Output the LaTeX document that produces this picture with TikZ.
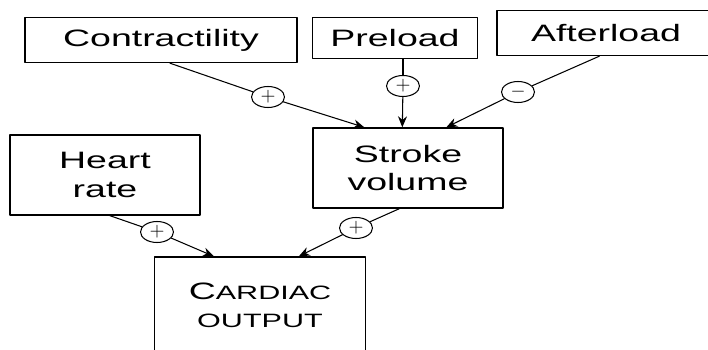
\documentclass[tikz,border=0pt]{standalone}
\usepackage{fontspec}
\setmainfont{Liberation Sans}
\usepackage{graphicx}
\usetikzlibrary{calc,shapes.geometric,arrows.meta}

% wide lettering as in the scanned figure
\newcommand{\wtxt}[1]{\scalebox{1.58}[1]{#1}}
\newcommand{\smcap}{\fontsize{11}{11}\selectfont}

\begin{document}
\begin{tikzpicture}[x=0.02cm, y=-0.02cm, line cap=round, line join=round,
  factor/.style={draw, thick, inner sep=0pt, align=center, font=\fontsize{13.5}{16}\selectfont},
  sign/.style={draw, semithick, ellipse, inner sep=0pt, minimum width=0.66cm, minimum height=0.42cm, font=\fontsize{11}{11}\selectfont},
  link/.style={semithick},
  effect/.style={semithick, -{Stealth[length=2.2mm, width=1.8mm]}}]

% Frame
\useasboundingbox (0,0) rectangle (708,349);
\clip (0,0) rectangle (708,349);

% Determinants
\node[factor, minimum width=5.44cm, minimum height=0.9cm] (contr) at (161,40) {\wtxt{Contractility}};
\node[factor, minimum width=3.3cm, minimum height=0.82cm] (pre) at (395,38) {\wtxt{Preload}};
\node[factor, minimum width=4.36cm, minimum height=0.9cm] (after) at (606,33) {\wtxt{Afterload}};
\node[factor, minimum width=3.8cm, minimum height=1.6cm] (heart) at (105,175) {\wtxt{Heart}\\\wtxt{rate}};
\node[factor, minimum width=3.8cm, minimum height=1.6cm] (stroke) at (408,168) {\wtxt{Stroke}\\\wtxt{volume}};
\node[factor, minimum width=4.22cm, minimum height=1.92cm] (cardiac) at (260,305)
  {\wtxt{C{\smcap ARDIAC}}\\\wtxt{\smcap OUTPUT}};

% Signs
\node[sign] (sc) at (268,97) {$+$};
\node[sign] (sp) at (403,86) {$+$};
\node[sign] (sa) at (518,92) {$-$};
\node[sign] (sh) at (157,232) {$+$};
\node[sign] (ss) at (356,228) {$+$};

% Influences on stroke volume
\draw[link] ($(contr.south)+(9,0)$) -- (sc);
\draw[effect] (sc) -- ($(stroke.north west)+(52,0)$);
\draw[link] ($(pre.south)+(8,0)$) -- (sp);
\draw[effect] (sp) -- ($(stroke.north west)+(90,0)$);
\draw[link] ($(after.south west)+(103,0)$) -- (sa);
\draw[effect] (sa) -- ($(stroke.north west)+(134,0)$);

% Influences on cardiac output
\draw[link] ($(heart.south)+(5,0)$) -- (sh);
\draw[effect] (sh) -- ($(cardiac.north west)+(60,0)$);
\draw[link] ($(stroke.south west)+(87,0)$) -- (ss);
\draw[effect] (ss) -- ($(cardiac.north west)+(145,0)$);
\end{tikzpicture}
\end{document}
